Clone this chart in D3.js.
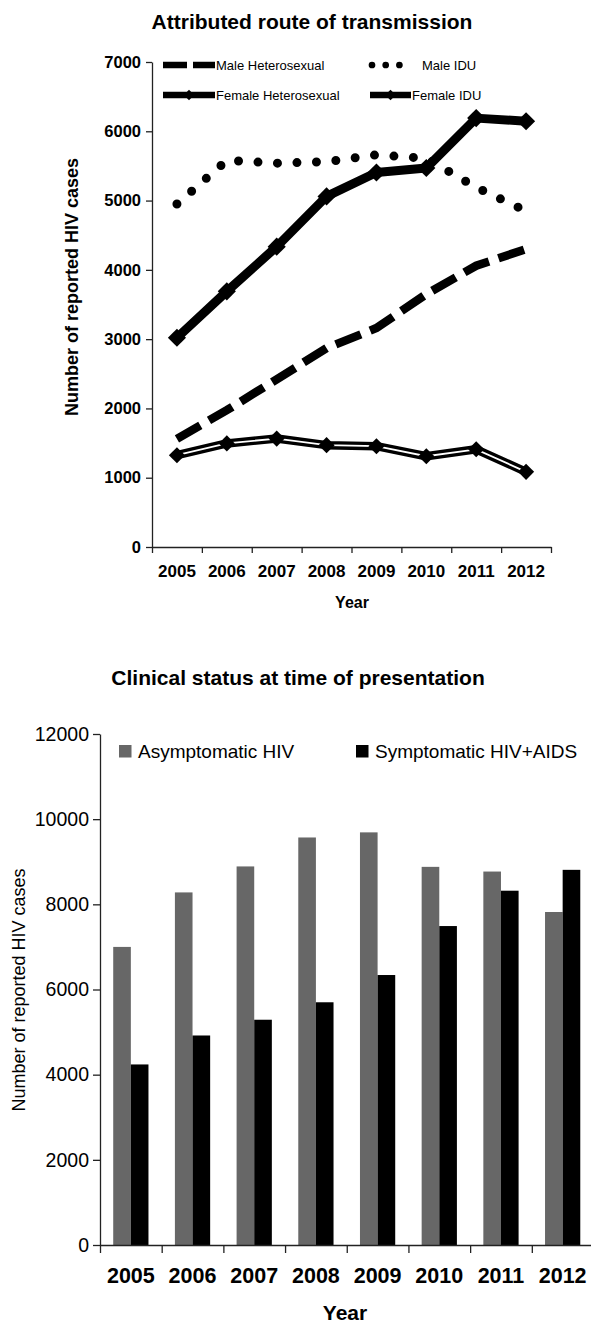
<!DOCTYPE html>
<html>
<head>
<meta charset="utf-8">
<script src="https://d3js.org/d3.v7.min.js"></script>
<style>
  body { margin: 0; background: #fff; }
  text { font-family: "Liberation Sans", Arial, sans-serif; fill: #000; }
</style>
</head>
<body>
<svg id="chart" width="591" height="1326"></svg>
<script>
// ---- data ----
const years = ['2005', '2006', '2007', '2008', '2009', '2010', '2011', '2012'];

// top chart: attributed route of transmission
const maleHetero   = [1560, 1975, 2420, 2870, 3160, 3650, 4060, 4300];
const maleIDU      = [4950, 5580, 5540, 5560, 5660, 5610, 5190, 4850];
const femaleHetero = [3020, 3690, 4335, 5060, 5405, 5470, 6190, 6145];
const femaleIDU    = [1325, 1495, 1565, 1470, 1455, 1310, 1410, 1085];
const routeTicks   = [0, 1000, 2000, 3000, 4000, 5000, 6000, 7000];

// bottom chart: clinical status
const asymptomatic = [7000, 8280, 8890, 9570, 9690, 8880, 8770, 7820];
const symptomatic  = [4240, 4920, 5290, 5700, 6340, 7490, 8320, 8810];
const statusTicks  = [0, 2000, 4000, 6000, 8000, 10000, 12000];

const svg = d3.select('#chart');

function styleAxis(g, size, weight) {
  g.selectAll('line, path').attr('stroke', '#222').attr('stroke-width', 1.3);
  g.selectAll('text').style('font-size', size).style('font-weight', weight);
}

// ================= top chart =================
const x1 = d3.scaleBand().domain(years).range([152, 551]);
const y1 = d3.scaleLinear().domain([0, 7000]).range([547, 62]);
const edges1 = d3.scaleLinear().domain([0, years.length]).range([152, 551]);
const cx1 = (d, i) => x1(years[i]) + x1.bandwidth() / 2;

const gTop = svg.append('g');

gTop.append('text')
  .attr('x', 312).attr('y', 29)
  .attr('text-anchor', 'middle')
  .style('font-size', '21px').style('font-weight', 'bold')
  .text('Attributed route of transmission');

gTop.append('g')
  .attr('transform', 'translate(152,0)')
  .call(d3.axisLeft(y1).tickValues(routeTicks).tickFormat(d3.format('d'))
    .tickSize(6).tickSizeOuter(0).tickPadding(5))
  .call(g => styleAxis(g, '16.5px', 'bold'));

gTop.append('g')
  .attr('transform', 'translate(0,547)')
  .call(d3.axisBottom(edges1).ticks(years.length).tickSize(6).tickSizeOuter(0).tickFormat(''))
  .call(g => styleAxis(g, '16px', 'bold'));

gTop.append('g')
  .attr('transform', 'translate(0,547)')
  .call(d3.axisBottom(x1).tickSize(0).tickPadding(18))
  .call(g => g.select('.domain').remove())
  .call(g => styleAxis(g, '17px', 'bold'));

gTop.append('text')
  .attr('x', 352).attr('y', 608)
  .attr('text-anchor', 'middle')
  .style('font-size', '16px').style('font-weight', 'bold')
  .text('Year');

gTop.append('text')
  .attr('transform', 'translate(78,287) rotate(-90)')
  .attr('text-anchor', 'middle')
  .style('font-size', '18px').style('font-weight', 'bold')
  .text('Number of reported HIV cases');

const line1 = d3.line().x(cx1).y(d => y1(d));

gTop.append('path').datum(maleHetero)
  .attr('d', line1).attr('fill', 'none')
  .attr('stroke', '#000').attr('stroke-width', 8.5)
  .attr('stroke-dasharray', '27,10');

gTop.append('path').datum(maleIDU)
  .attr('d', line1).attr('fill', 'none')
  .attr('stroke', '#000').attr('stroke-width', 9)
  .attr('stroke-linecap', 'round')
  .attr('stroke-dasharray', '0,19.5');

gTop.append('path').datum(femaleHetero)
  .attr('d', line1).attr('fill', 'none')
  .attr('stroke', '#000').attr('stroke-width', 9)
  .attr('stroke-linejoin', 'round');

gTop.append('path').datum(femaleIDU)
  .attr('d', line1).attr('fill', 'none')
  .attr('stroke', '#000').attr('stroke-width', 8.5)
  .attr('stroke-linejoin', 'round');
gTop.append('path').datum(femaleIDU)
  .attr('d', line1).attr('fill', 'none')
  .attr('stroke', '#fff').attr('stroke-width', 1.8);

const diamond = d3.symbol().type(d3.symbolSquare);

gTop.append('g').selectAll('path')
  .data(femaleHetero).join('path')
  .attr('d', diamond.size(165)())
  .attr('transform', (d, i) => `translate(${cx1(d, i)},${y1(d)}) rotate(45)`)
  .attr('fill', '#000');

gTop.append('g').selectAll('path')
  .data(femaleIDU).join('path')
  .attr('d', diamond.size(130)())
  .attr('transform', (d, i) => `translate(${cx1(d, i)},${y1(d)}) rotate(45)`)
  .attr('fill', '#000');

// legend
const topLegend = [
  { name: 'Male Heterosexual',   x0: 163, x1: 215, y: 65, kind: 'dash' },
  { name: 'Male IDU',            x0: 372, x1: 413, y: 65, kind: 'dot' },
  { name: 'Female Heterosexual', x0: 163, x1: 215, y: 95, kind: 'diamond' },
  { name: 'Female IDU',          x0: 370, x1: 411, y: 95, kind: 'diamond' }
];

const lg = gTop.append('g').selectAll('g').data(topLegend).join('g');
lg.append('line')
  .attr('x1', d => d.x0).attr('x2', d => d.x1)
  .attr('y1', d => d.y).attr('y2', d => d.y)
  .attr('stroke', '#000')
  .attr('stroke-width', d => d.kind === 'dot' ? 6.7 : 6.3)
  .attr('stroke-linecap', d => d.kind === 'dot' ? 'round' : 'butt')
  .attr('stroke-dasharray', d => d.kind === 'dash' ? '24,6' : d.kind === 'dot' ? '0,13.7' : null);
lg.filter(d => d.kind === 'diamond').append('path')
  .attr('d', diamond.size(55)())
  .attr('transform', d => `translate(${(d.x0 + d.x1) / 2},${d.y}) rotate(45)`)
  .attr('fill', '#000');
lg.append('text')
  .attr('x', d => d.x1 + (d.kind === 'dot' ? 9 : 1))
  .attr('y', d => d.y + 4.8)
  .style('font-size', '13px')
  .text(d => d.name);

// ================= bottom chart =================
const x2 = d3.scaleBand().domain(years).range([100, 593.5]);
const xs = d3.scaleBand().domain(['asym', 'sym']).range([0, x2.bandwidth()]).paddingInner(0).paddingOuter(0.75);
const y2 = d3.scaleLinear().domain([0, 12000]).range([1245, 734]);
const edges2 = d3.scaleLinear().domain([0, years.length]).range([100, 593.5]);

const gBot = svg.append('g');

gBot.append('text')
  .attr('x', 298).attr('y', 685)
  .attr('text-anchor', 'middle')
  .style('font-size', '21px').style('font-weight', 'bold')
  .text('Clinical status at time of presentation');

const groups = gBot.append('g').selectAll('g')
  .data(years).join('g')
  .attr('transform', d => `translate(${x2(d)},0)`);

groups.append('rect')
  .attr('x', xs('asym')).attr('width', xs.bandwidth())
  .attr('y', (d, i) => y2(asymptomatic[i]))
  .attr('height', (d, i) => y2(0) - y2(asymptomatic[i]))
  .attr('fill', '#676767');

groups.append('rect')
  .attr('x', xs('sym')).attr('width', xs.bandwidth())
  .attr('y', (d, i) => y2(symptomatic[i]))
  .attr('height', (d, i) => y2(0) - y2(symptomatic[i]))
  .attr('fill', '#000');

gBot.append('g')
  .attr('transform', 'translate(100,0)')
  .call(d3.axisLeft(y2).tickValues(statusTicks).tickFormat(d3.format('d'))
    .tickSize(7).tickSizeOuter(0).tickPadding(4))
  .call(g => styleAxis(g, '19.5px', 'normal'));

gBot.append('g')
  .attr('transform', 'translate(0,1245)')
  .call(d3.axisBottom(edges2).ticks(years.length).tickSize(8).tickSizeOuter(0).tickFormat(''))
  .call(g => styleAxis(g, '16px', 'bold'));

gBot.append('g')
  .attr('transform', 'translate(0,1245)')
  .call(d3.axisBottom(x2).tickSize(0).tickPadding(23))
  .call(g => g.select('.domain').remove())
  .call(g => styleAxis(g, '21.5px', 'bold'));

gBot.append('text')
  .attr('x', 345).attr('y', 1320)
  .attr('text-anchor', 'middle')
  .style('font-size', '21px').style('font-weight', 'bold')
  .text('Year');

gBot.append('text')
  .attr('transform', 'translate(25,990) rotate(-90)')
  .attr('text-anchor', 'middle')
  .style('font-size', '18px')
  .text('Number of reported HIV cases');

const botLegend = [
  { name: 'Asymptomatic HIV',    color: '#676767', x: 119 },
  { name: 'Symptomatic HIV+AIDS', color: '#000',   x: 356 }
];
const bl = gBot.append('g').selectAll('g').data(botLegend).join('g');
bl.append('rect')
  .attr('x', d => d.x).attr('y', 745)
  .attr('width', 12.5).attr('height', 12.5)
  .attr('fill', d => d.color);
bl.append('text')
  .attr('x', d => d.x + 19).attr('y', 758)
  .style('font-size', '19px')
  .text(d => d.name);
</script>
</body>
</html>
